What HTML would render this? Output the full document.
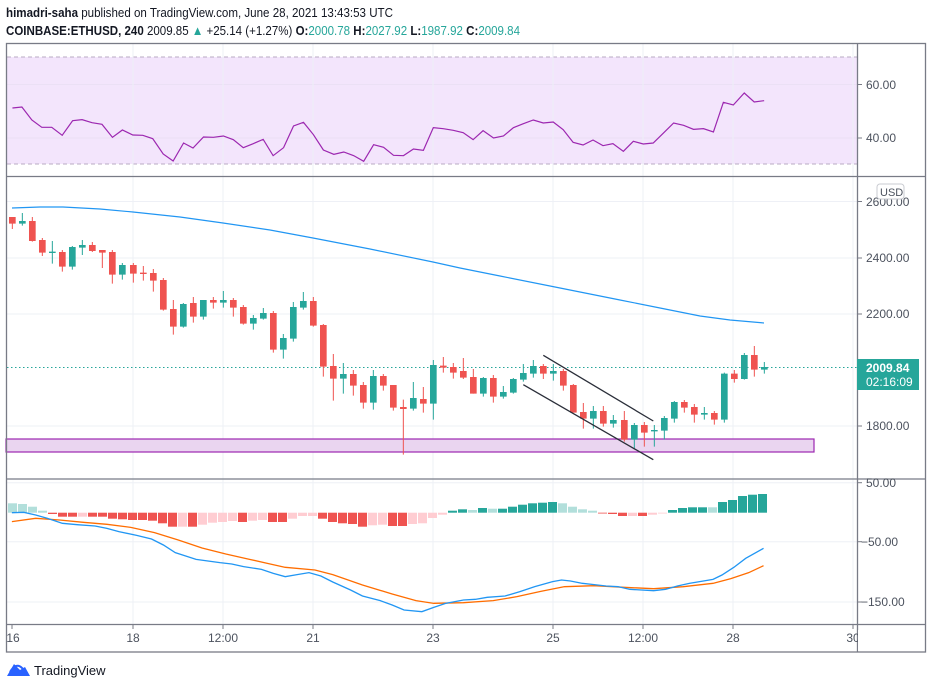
<!DOCTYPE html>
<html><head><meta charset="utf-8"><style>
html,body{margin:0;padding:0;background:#fff;width:932px;height:689px;overflow:hidden}
svg{display:block}
text{font-family:"Liberation Sans",sans-serif}
</style></head><body>
<svg width="932" height="689" viewBox="0 0 932 689" xmlns="http://www.w3.org/2000/svg">
<rect width="932" height="689" fill="#fff"/>
<!-- header -->
<text x="6" y="17" font-size="13" fill="#131722" textLength="387" lengthAdjust="spacingAndGlyphs"><tspan font-weight="bold">himadri-saha</tspan> published on TradingView.com, June 28, 2021 13:43:53 UTC</text>
<text x="6" y="35" font-size="13" fill="#131722" textLength="514" lengthAdjust="spacingAndGlyphs"><tspan font-weight="bold">COINBASE:ETHUSD, 240</tspan> 2009.85 <tspan fill="#26a69a">▲</tspan> +25.14 (+1.27%) <tspan font-weight="bold">O:</tspan><tspan fill="#26a69a">2000.78</tspan> <tspan font-weight="bold">H:</tspan><tspan fill="#26a69a">2027.92</tspan> <tspan font-weight="bold">L:</tspan><tspan fill="#26a69a">1987.92</tspan> <tspan font-weight="bold">C:</tspan><tspan fill="#26a69a">2009.84</tspan></text>

<!-- RSI pane -->
<rect x="7" y="57" width="850" height="107" fill="#f3e5fc"/>
<g stroke="#ebe0f5" stroke-width="1">
<line x1="7" y1="84.5" x2="857" y2="84.5"/><line x1="7" y1="138" x2="857" y2="138"/>
</g>
<g stroke="#b9abc3" stroke-dasharray="4,3"><line x1="7" y1="57" x2="857" y2="57"/><line x1="7" y1="164" x2="857" y2="164"/></g>
<!-- vertical grid -->
<g stroke="#eef0f6" stroke-width="1">
<line x1="133" y1="44" x2="133" y2="624"/><line x1="223" y1="44" x2="223" y2="624"/><line x1="313" y1="44" x2="313" y2="624"/><line x1="433" y1="44" x2="433" y2="624"/><line x1="553" y1="44" x2="553" y2="624"/><line x1="643" y1="44" x2="643" y2="624"/><line x1="733" y1="44" x2="733" y2="624"/><line x1="853" y1="44" x2="853" y2="624"/>
<line x1="7" y1="201.5" x2="857" y2="201.5"/><line x1="7" y1="258" x2="857" y2="258"/><line x1="7" y1="314" x2="857" y2="314"/><line x1="7" y1="426" x2="857" y2="426"/>
<line x1="7" y1="482.7" x2="857" y2="482.7"/><line x1="7" y1="541.7" x2="857" y2="541.7"/><line x1="7" y1="602" x2="857" y2="602"/>
</g>
<g transform="translate(0,40) scale(0.4975,0.33333)">
<polyline vector-effect="non-scaling-stroke" fill="none" stroke="#9c27b0" stroke-width="1.2" points="25,204 44,201 64,240 84,262 104,262 125,286 146,242 165,239 185,248 205,253 226,292 246,270 267,285 287,286 307,296 328,342 348,363 369,309 388,324 409,291 429,292 449,288 469,299 489,323 509,311 529,298 549,347 570,323 590,258 610,247 630,284 650,330 671,343 691,336 711,347 731,364 751,314 771,322 791,346 811,347 831,327 851,331 871,263 891,266 911,271 931,278 951,299 971,272 992,294 1012,288 1032,263 1052,251 1072,240 1092,249 1112,246 1132,269 1152,307 1172,315 1192,300 1212,317 1232,311 1253,334 1273,304 1293,312 1313,309 1333,280 1354,249 1374,256 1394,268 1414,266 1434,276 1454,187 1474,195 1496,159 1516,186 1536,182"/>
</g>

<!-- purple zone -->
<rect x="6" y="439" width="808" height="13" fill="#ead5f0" stroke="#9c27b0" stroke-width="1.2"/>

<!-- MA line -->
<polyline fill="none" stroke="#2196f3" stroke-width="1.2" points="12,208 40,207 63,207 100,209 133,212 180,217 223,223 270,230 313,238 370,249 433,262 460,268 500,276 550,286 590,294 620,300 660,308 700,316 730,320 764,323"/>

<!-- current price line -->
<line x1="7" y1="367.5" x2="857" y2="367.5" stroke="#26a69a" stroke-dasharray="1.5,2.5"/>

<!-- candles group 1 -->
<g transform="translate(0,180) scale(0.33333)">
<path stroke="#ef5350" stroke-width="3" fill="none" d="M37,111V147M97,111V185M127,174V228M187,210V275M277,186V216M307,210V264M337,210V311M400,249V308M430,258V302M460,267V335M490,294V392M520,360V464M580,351V428M640,351V386M700,354V410M730,375V434M820,393V518M940,351V440M970,432V590M1000,522V662M1060,570V647M1090,606V686M1150,582V632M1180,615V692M1210,659V824M1270,621V698M1330,531V578M1360,549V596"/>
<path fill="#ef5350" d="M27,111h20V131h-20ZM87,123h20V183h-20ZM117,180h20V218h-20ZM177,216h20V260h-20ZM267,195h20V213h-20ZM297,210h20V218h-20ZM327,216h20V284h-20ZM390,255h20V281h-20ZM420,278h20V282h-20ZM450,279h20V302h-20ZM480,300h20V389h-20ZM510,387h20V440h-20ZM570,369h20V410h-20ZM630,360h20V368h-20ZM690,360h20V383h-20ZM720,381h20V431h-20ZM810,399h20V509h-20ZM930,363h20V437h-20ZM960,435h20V560h-20ZM990,558h20V596h-20ZM1050,582h20V617h-20ZM1080,615h20V668h-20ZM1140,588h20V617h-20ZM1170,615h20V683h-20ZM1200,681h20V687h-20ZM1260,657h20V671h-20ZM1320,557h20V563h-20ZM1350,561h20V578h-20Z"/>
<path stroke="#26a69a" stroke-width="3" fill="none" d="M67,99V137M157,183V251M217,198V269M247,180V225M367,249V299M550,369V443M610,360V419M670,333V383M760,405V449M790,384V419M850,462V536M880,366V485M910,336V389M1030,549V641M1120,570V689M1240,606V692M1300,540V719"/>
<path fill="#26a69a" d="M57,123h20V131h-20ZM147,215h20V219h-20ZM207,201h20V260h-20ZM237,195h20V203h-20ZM357,255h20V284h-20ZM540,372h20V440h-20ZM600,360h20V410h-20ZM660,360h20V368h-20ZM750,414h20V431h-20ZM780,399h20V416h-20ZM840,474h20V509h-20ZM870,381h20V476h-20ZM900,363h20V383h-20ZM1020,582h20V596h-20ZM1110,588h20V668h-20ZM1230,654h20V686h-20ZM1290,555h20V671h-20Z"/>
</g>
<!-- candles group 2 -->
<g transform="translate(440,330) scale(0.33333)">
<path stroke="#ef5350" stroke-width="3" fill="none" d="M70,84V147M100,117V191M160,135V218M310,102V147M370,117V182M400,162V248M430,219V296M490,228V290M553,243V335M613,276V350M733,210V248M763,222V278M823,243V284M883,120V158M943,48V140"/>
<path fill="#ef5350" d="M60,123h20V143h-20ZM90,141h20V191h-20ZM150,144h20V200h-20ZM300,108h20V131h-20ZM360,123h20V167h-20ZM390,165h20V248h-20ZM420,246h20V266h-20ZM480,243h20V281h-20ZM543,270h20V329h-20ZM603,285h20V308h-20ZM723,216h20V233h-20ZM753,231h20V254h-20ZM813,249h20V269h-20ZM873,131h20V147h-20ZM933,75h20V119h-20Z"/>
<path stroke="#26a69a" stroke-width="3" fill="none" d="M130,141V200M190,168V206M220,144V191M250,102V155M280,90V143M340,102V152M460,228V296M520,255V293M583,279V358M643,285V350M673,258V329M703,213V278M793,231V269M853,128V278M913,69V149M973,96V131"/>
<path fill="#26a69a" d="M120,144h20V191h-20ZM180,186h20V200h-20ZM210,147h20V188h-20ZM240,129h20V149h-20ZM270,108h20V131h-20ZM330,123h20V131h-20ZM450,243h20V266h-20ZM510,270h20V281h-20ZM573,285h20V329h-20ZM633,300h20V304h-20ZM663,264h20V302h-20ZM693,216h20V266h-20ZM783,249h20V254h-20ZM843,131h20V269h-20ZM903,75h20V147h-20ZM963,111h20V119h-20Z"/>
</g>
<!-- channel -->
<g stroke="#2a2e39" stroke-width="1.3"><line x1="543.3" y1="355.3" x2="653.3" y2="421"/><line x1="523.3" y1="384.7" x2="653.3" y2="459.7"/></g>

<!-- MACD histogram -->
<g>
<g fill="#b2dfdb"><rect x="8" y="503.3" width="9" height="9.4"/><rect x="18" y="504" width="9" height="8.7"/><rect x="28" y="506.7" width="9" height="6"/><rect x="38" y="510.7" width="9" height="2"/>
<rect x="468" y="510" width="9" height="2.7"/><rect x="488" y="508.7" width="9" height="4"/><rect x="558" y="503.3" width="9" height="9.4"/><rect x="568" y="506.7" width="9" height="6"/><rect x="578" y="509.3" width="9" height="3.4"/><rect x="588" y="510.7" width="9" height="2"/><rect x="708" y="507.3" width="9" height="5.4"/></g>
<g fill="#26a69a"><rect x="448" y="510.7" width="9" height="2"/><rect x="458" y="509.3" width="9" height="3.4"/><rect x="478" y="508" width="9" height="4.7"/><rect x="498" y="508.7" width="9" height="4"/><rect x="508" y="506.7" width="9" height="6"/><rect x="518" y="504.7" width="9" height="8"/><rect x="528" y="503.3" width="9" height="9.4"/><rect x="538" y="502.7" width="9" height="10"/><rect x="548" y="502" width="9" height="10.7"/>
<rect x="668" y="510" width="9" height="2.7"/><rect x="678" y="508" width="9" height="4.7"/><rect x="688" y="507.3" width="9" height="5.4"/><rect x="698" y="507.3" width="9" height="5.4"/><rect x="718" y="502" width="9" height="10.7"/><rect x="728" y="500" width="9" height="12.7"/><rect x="738" y="496" width="9" height="16.7"/><rect x="748" y="494.7" width="9" height="18"/><rect x="758" y="494" width="9" height="18.7"/></g>
<g fill="#ef5350"><rect x="48" y="512.7" width="9" height="1.3"/><rect x="58" y="512.7" width="9" height="4"/><rect x="68" y="512.7" width="9" height="4"/><rect x="88" y="512.7" width="9" height="4"/><rect x="98" y="512.7" width="9" height="4"/><rect x="108" y="512.7" width="9" height="6"/><rect x="118" y="512.7" width="9" height="6.6"/><rect x="128" y="512.7" width="9" height="7.3"/><rect x="138" y="512.7" width="9" height="7.3"/><rect x="148" y="512.7" width="9" height="8"/><rect x="158" y="512.7" width="9" height="10.6"/><rect x="168" y="512.7" width="9" height="14"/><rect x="188" y="512.7" width="9" height="14"/><rect x="238" y="512.7" width="9" height="9.3"/><rect x="268" y="512.7" width="9" height="9.3"/><rect x="278" y="512.7" width="9" height="9.3"/><rect x="318" y="512.7" width="9" height="6"/><rect x="328" y="512.7" width="9" height="9.3"/><rect x="338" y="512.7" width="9" height="10.6"/><rect x="348" y="512.7" width="9" height="11.3"/><rect x="358" y="512.7" width="9" height="14"/><rect x="388" y="512.7" width="9" height="13.3"/><rect x="398" y="512.7" width="9" height="13.3"/><rect x="598" y="512.7" width="9" height="0.8"/><rect x="608" y="512.7" width="9" height="1.3"/><rect x="618" y="512.7" width="9" height="3.3"/><rect x="638" y="512.7" width="9" height="3.3"/></g>
<g fill="#ffcdd2"><rect x="78" y="512.7" width="9" height="4"/><rect x="178" y="512.7" width="9" height="14"/><rect x="198" y="512.7" width="9" height="12"/><rect x="208" y="512.7" width="9" height="10"/><rect x="218" y="512.7" width="9" height="9.3"/><rect x="228" y="512.7" width="9" height="8.3"/><rect x="248" y="512.7" width="9" height="8"/><rect x="258" y="512.7" width="9" height="7.3"/><rect x="288" y="512.7" width="9" height="6"/><rect x="298" y="512.7" width="9" height="3.3"/><rect x="308" y="512.7" width="9" height="3.3"/><rect x="368" y="512.7" width="9" height="12.6"/><rect x="378" y="512.7" width="9" height="12"/><rect x="408" y="512.7" width="9" height="11.3"/><rect x="418" y="512.7" width="9" height="10.6"/><rect x="428" y="512.7" width="9" height="5.3"/><rect x="438" y="512.7" width="9" height="2"/><rect x="628" y="512.7" width="9" height="3.3"/><rect x="648" y="512.7" width="9" height="2"/><rect x="658" y="512.7" width="9" height="0.8"/></g>
</g>
<g transform="translate(0,470) scale(0.5942,0.33333)" fill="none" stroke-width="1.3">
<polyline vector-effect="non-scaling-stroke" stroke="#ff6d00" points="20,155 60,145 100,150 140,157 180,163 220,172 260,188 300,210 340,234 380,252 420,268 450,280 480,292 530,300 560,314 610,345 660,372 700,392 730,400 780,398 830,392 870,380 910,364 950,350 1000,347 1050,352 1100,356 1150,350 1200,340 1230,326 1260,308 1285,287"/>
<polyline vector-effect="non-scaling-stroke" stroke="#2196f3" points="20,128 40,127 60,135 80,145 105,160 130,164 160,168 180,175 200,185 230,196 255,207 275,225 295,248 330,268 370,278 390,282 410,290 440,298 460,310 480,320 500,314 520,308 540,318 560,336 590,360 610,378 640,392 660,405 680,420 710,425 730,412 750,400 780,390 800,388 820,382 850,378 875,365 900,350 930,335 945,330 960,333 980,340 1000,344 1020,348 1040,350 1060,358 1100,362 1120,358 1140,348 1160,340 1200,328 1215,315 1235,292 1255,265 1285,235"/>
</g>

<!-- frame -->
<g stroke="#787b86" stroke-width="1.3" fill="none">
<rect x="6.5" y="43.5" width="919" height="608.5"/>
<line x1="857.5" y1="43.5" x2="857.5" y2="652"/>
<line x1="6.5" y1="176.5" x2="925.5" y2="176.5"/>
<line x1="6.5" y1="479" x2="925.5" y2="479"/>
<line x1="6.5" y1="624.5" x2="925.5" y2="624.5"/>
</g>
<g stroke="#787b86" stroke-width="1">
<line x1="857" y1="84.5" x2="862" y2="84.5"/><line x1="857" y1="138" x2="862" y2="138"/>
<line x1="857" y1="201.5" x2="862" y2="201.5"/><line x1="857" y1="258" x2="862" y2="258"/><line x1="857" y1="314" x2="862" y2="314"/><line x1="857" y1="426" x2="862" y2="426"/>
<line x1="857" y1="482.7" x2="862" y2="482.7"/><line x1="857" y1="541.7" x2="862" y2="541.7"/><line x1="857" y1="602" x2="862" y2="602"/>
<line x1="12" y1="625" x2="12" y2="629"/><line x1="133" y1="625" x2="133" y2="629"/><line x1="223" y1="625" x2="223" y2="629"/><line x1="313" y1="625" x2="313" y2="629"/><line x1="433" y1="625" x2="433" y2="629"/><line x1="553" y1="625" x2="553" y2="629"/><line x1="643" y1="625" x2="643" y2="629"/><line x1="733" y1="625" x2="733" y2="629"/><line x1="853" y1="625" x2="853" y2="629"/>
</g>
<g font-size="12" fill="#4c525e">
<text x="866" y="89">60.00</text><text x="866" y="142">40.00</text>
<text x="866" y="206">2600.00</text><text x="866" y="262">2400.00</text><text x="866" y="318">2200.00</text><text x="866" y="430">1800.00</text>
<text x="866" y="487">50.00</text><text x="861" y="546">−50.00</text><text x="861" y="606">−150.00</text>
</g>
<rect x="877" y="184" width="27" height="15" rx="3" fill="#fff" stroke="#c9cbd1"/>
<text x="880" y="196" font-size="11" fill="#4c525e">USD</text>
<rect x="857" y="359" width="62" height="31" fill="#26a69a"/>
<text x="866" y="372" font-size="12" font-weight="bold" fill="#fff">2009.84</text>
<text x="866" y="386" font-size="12" fill="#fff">02:16:09</text>
<g font-size="12" fill="#4c525e" text-anchor="middle">
<text x="13" y="642">16</text><text x="133" y="642">18</text><text x="223" y="642">12:00</text><text x="313" y="642">21</text><text x="433" y="642">23</text><text x="553" y="642">25</text><text x="643" y="642">12:00</text><text x="733" y="642">28</text><text x="853" y="642">30</text>
</g>
<rect x="858" y="630" width="66" height="21" fill="#fff"/>
<!-- logo -->
<path d="M7,676 L14,664 L20,670 L25,667 L30,676 Z" fill="#2962ff"/>
<path d="M10,672 Q16,662 22,668 L26,672" fill="none" stroke="#2962ff" stroke-width="2"/>
<text x="34" y="675" font-size="13" fill="#131722">TradingView</text>
</svg>
</body></html>
